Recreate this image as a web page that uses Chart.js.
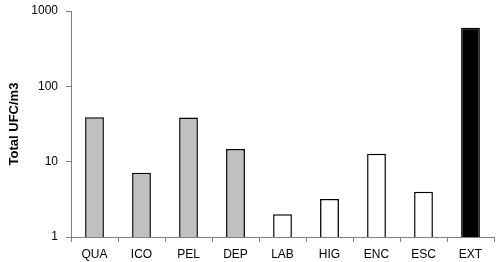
<!DOCTYPE html>
<html>
<head>
<meta charset="utf-8">
<script src="https://cdn.jsdelivr.net/npm/chart.js@4/dist/chart.umd.min.js"></script>
<style>
  html, body { margin: 0; padding: 0; background: #fff; }
  #wrap { width: 500px; height: 262px; }
</style>
</head>
<body>
<div id="wrap"><canvas id="chart"></canvas></div>
<script>
const sites = ['QUA', 'ICO', 'PEL', 'DEP', 'LAB', 'HIG', 'ENC', 'ESC', 'EXT'];
const ufcTotal = [39, 7.1, 38.5, 14.7, 2.0, 3.2, 12.7, 4.0, 600];
const siteGroup = ['in', 'in', 'in', 'in', 'lab', 'lab', 'lab', 'lab', 'out'];
const yTicks = [1, 10, 100, 1000];

const groupFill = { in: '#c0c0c0', lab: '#ffffff', out: '#000000' };

const data = {
    labels: sites,
    datasets: [{
        data: ufcTotal,
        backgroundColor: siteGroup.map(g => groupFill[g]),
        borderColor: '#000000',
        borderWidth: 1.5,
        borderSkipped: 'bottom',
        barPercentage: 0.4,
        categoryPercentage: 1.0
    }]
};

const config = {
    type: 'bar',
    data: data,
    options: {
        responsive: true,
        maintainAspectRatio: false,
        animation: false,
        layout: { padding: { top: 11, right: 6, left: 0, bottom: 0 } },
        plugins: { legend: { display: false }, tooltip: { enabled: false } },
        scales: {
            x: {
                grid: { display: true, drawOnChartArea: false, offset: true, color: '#808080', tickLength: 5 },
                border: { color: '#808080' },
                ticks: { color: '#000', font: { family: 'Liberation Sans', size: 12 }, padding: 5 },
                afterFit: s => { s.height = 25; }
            },
            y: {
                type: 'logarithmic',
                min: 1,
                max: 1000,
                grid: { display: true, drawOnChartArea: false, color: '#808080', tickLength: 5 },
                border: { color: '#808080' },
                ticks: { color: '#000', font: { family: 'Liberation Sans', size: 12 }, padding: 8,
                         callback: v => String(v) },
                afterBuildTicks: s => { s.ticks = yTicks.map(v => ({ value: v })); },
                title: { display: true, text: 'Total UFC/m3', color: '#000',
                         font: { family: 'Liberation Sans', size: 13, weight: 'bold' },
                         padding: { top: 7, bottom: 4 } },
                afterFit: s => { s.width = 71; s.paddingTop = 0; s.paddingBottom = 0; }
            }
        }
    }
};

new Chart('chart', config);
</script>
</body>
</html>
